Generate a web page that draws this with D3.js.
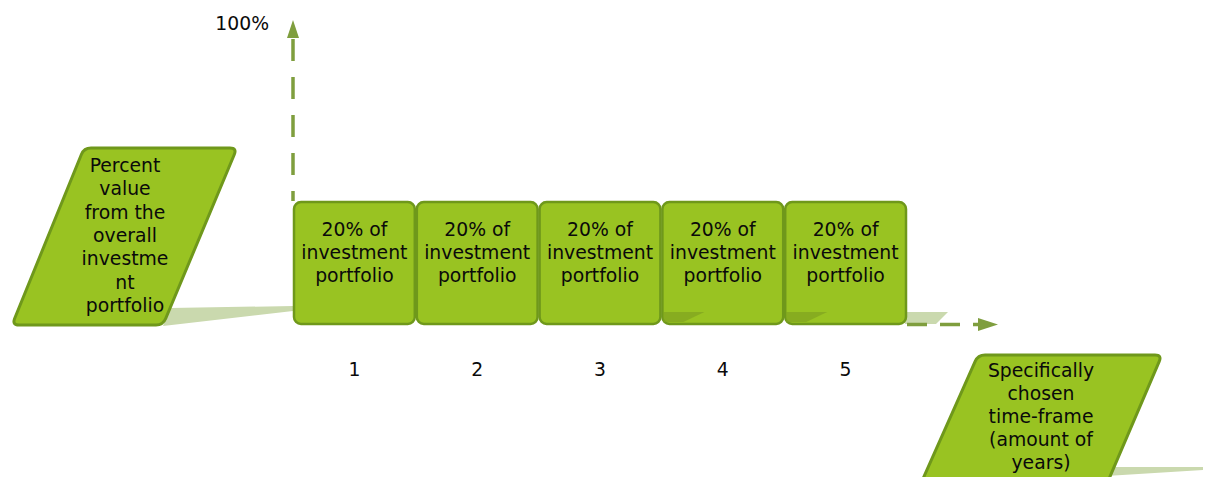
<!DOCTYPE html>
<html>
<head>
<meta charset="utf-8">
<script src="https://cdn.jsdelivr.net/npm/d3@7"></script>
<style>
  body { margin: 0; background: #fff; }
  text { font-family: "DejaVu Sans", Verdana, sans-serif; font-size: 18.8px; fill: #0a0a0a; }
</style>
</head>
<body>
<div id="chart"></div>
<script>
const years = [1, 2, 3, 4, 5];
const shares = [20, 20, 20, 20, 20];
const boxLines = ["20% of", "investment", "portfolio"];
const yLabelLines = ["Percent", "value", "from the", "overall", "investme", "nt", "portfolio"];
const xLabelLines = ["Specifically", "chosen", "time-frame", "(amount of", "years)"];
const topLabel = "100%";

const width = 1206, height = 477;
const fill = "#99c322", edge = "#6f981b", axisCol = "#7f9e3e", shadow = "#cad9ae";

let svg = d3.select("#chart").append("svg")
    .attr("width", width)
    .attr("height", height);

const x = d3.scaleBand()
    .domain(years)
    .range([293, 907]);

// schematic: one 20% share per box
const y = d3.scaleLinear()
    .domain([0, 20])
    .range([325, 201]);

// rounded polygon helper
function rounded(pts, r) {
    const n = pts.length;
    let d = "";
    for (let i = 0; i < n; i++) {
        const p0 = pts[(i - 1 + n) % n], p = pts[i], p1 = pts[(i + 1) % n];
        const a = Math.hypot(p0[0] - p[0], p0[1] - p[1]);
        const b = Math.hypot(p1[0] - p[0], p1[1] - p[1]);
        const s = [p[0] + (p0[0] - p[0]) * r / a, p[1] + (p0[1] - p[1]) * r / a];
        const e = [p[0] + (p1[0] - p[0]) * r / b, p[1] + (p1[1] - p[1]) * r / b];
        d += (i === 0 ? "M" : "L") + s[0] + "," + s[1] + "Q" + p[0] + "," + p[1] + " " + e[0] + "," + e[1];
    }
    return d + "Z";
}

// shadows
svg.append("path")
    .attr("d", "M170,308L293,306L293,311L163,326Z")
    .attr("fill", shadow);
svg.append("path")
    .attr("d", "M905,312L948,312L936,324L905,324Z")
    .attr("fill", shadow);
svg.append("path")
    .attr("d", "M1100,467L1203,467L1203,470L1090,477Z")
    .attr("fill", shadow);

// vertical axis
svg.append("line")
    .attr("x1", 293).attr("x2", 293)
    .attr("y1", 201).attr("y2", 38)
    .attr("stroke", axisCol)
    .attr("stroke-width", 3.5)
    .attr("stroke-dasharray", "22,16")
    .attr("stroke-dashoffset", 12);
svg.append("path")
    .attr("d", "M293,20L299,38L287,38Z")
    .attr("fill", axisCol);

// horizontal axis
svg.append("line")
    .attr("x1", 907).attr("x2", 978)
    .attr("y1", 324.5).attr("y2", 324.5)
    .attr("stroke", axisCol)
    .attr("stroke-width", 3.5)
    .attr("stroke-dasharray", "20,13");
svg.append("path")
    .attr("d", "M998,324.5L978,318L978,331Z")
    .attr("fill", axisCol);

svg.append("text")
    .attr("x", 269)
    .attr("y", 30)
    .attr("text-anchor", "end")
    .text(topLabel);

// boxes
const data = years.map((d, i) => ({ year: d, share: shares[i] }));

const box = svg.append("g")
    .selectAll("g")
    .data(data)
    .join("g");

box.append("rect")
    .attr("x", d => x(d.year) + 1)
    .attr("y", d => y(d.share) + 1)
    .attr("width", x.bandwidth() - 2)
    .attr("height", d => y(0) - y(d.share) - 2)
    .attr("rx", 7)
    .attr("fill", fill)
    .attr("stroke", edge)
    .attr("stroke-width", 2.5);

// inner shadows of previous boxes on the last two
box.filter((d, i) => i >= 3)
    .append("path")
    .attr("d", d => {
        const x0 = x(d.year) + 2;
        return `M${x0},312L${x0 + 41},312L${x0 + 20},322L${x0},322Z`;
    })
    .attr("fill", "#7fa31f")
    .attr("opacity", 0.7);

box.append("text")
    .attr("text-anchor", "middle")
    .selectAll("tspan")
    .data(d => boxLines.map(t => ({ t, d })))
    .join("tspan")
    .attr("x", o => x(o.d.year) + x.bandwidth() / 2)
    .attr("y", (o, i) => 236 + i * 23)
    .text(o => o.t);

// x tick labels
svg.append("g")
    .selectAll("text")
    .data(years)
    .join("text")
    .attr("x", d => x(d) + x.bandwidth() / 2)
    .attr("y", 376)
    .attr("text-anchor", "middle")
    .text(d => d);

// left label parallelogram
svg.append("path")
    .attr("d", rounded([[84, 148], [237, 148], [163, 325], [12, 325]], 7))
    .attr("fill", fill)
    .attr("stroke", edge)
    .attr("stroke-width", 3);

svg.append("text")
    .attr("text-anchor", "middle")
    .selectAll("tspan")
    .data(yLabelLines)
    .join("tspan")
    .attr("x", 125)
    .attr("y", (d, i) => 172 + i * 23.3)
    .text(d => d);

// right label parallelogram
svg.append("path")
    .attr("d", rounded([[978, 355], [1162, 355], [1085, 535], [898, 535]], 7))
    .attr("fill", fill)
    .attr("stroke", edge)
    .attr("stroke-width", 3);

svg.append("text")
    .attr("text-anchor", "middle")
    .selectAll("tspan")
    .data(xLabelLines)
    .join("tspan")
    .attr("x", 1041)
    .attr("y", (d, i) => 377 + i * 23)
    .text(d => d);
</script>
</body>
</html>
